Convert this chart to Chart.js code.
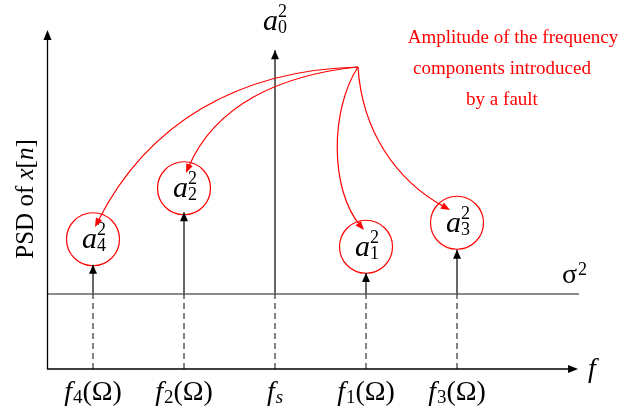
<!DOCTYPE html>
<html>
<head>
<meta charset="utf-8">
<script src="https://cdn.jsdelivr.net/npm/chart.js@4.4.1/dist/chart.umd.min.js"></script>
<style>
  body { margin: 0; background: #fff; }
  canvas { display: block; }
</style>
</head>
<body>
<canvas id="psdChart" width="629" height="408"></canvas>
<script>
// ---------- data ----------
// frequency positions on the f axis (index units)
const freqPos = [1, 2, 3, 4, 5];
const tickSubs = ['4', '2', 's', '1', '3'];
const tickSuffix = ['(Ω)', '(Ω)', '', '(Ω)', '(Ω)'];
const compIndex = ['4', '2', '0', '1', '3'];
// height of each spectral line (tip of arrow), noise floor = 1
const stemTop = [1.39, 2.09, 4.25, 1.28, 1.59];
// level of the circled amplitude labels (fs has no circle)
const circleLevel = [1.73, 2.41, null, 1.63, 1.95];
const noiseLevel = 1;
const axisX = [0.5, 6.33];
const axisY = [0, 4.52];

// red arrows: start point + two control points + end point (data units)
const faultSource = { x: 3.912, y: 4.027 };
const faultCurves = [
    [{ x: 2.615, y: 3.987 }, { x: 1.604, y: 3.293 }, { x: 1.022, y: 1.893 }],
    [{ x: 3.055, y: 3.92 }, { x: 2.341, y: 3.52 }, { x: 2.022, y: 2.613 }],
    [{ x: 3.604, y: 3.453 }, { x: 3.604, y: 2.387 }, { x: 3.978, y: 1.853 }],
    [{ x: 3.956, y: 3.187 }, { x: 4.319, y: 2.52 }, { x: 4.923, y: 2.12 }]
];
const noteLines = ['Amplitude of the frequency', 'components introduced', 'by a fault'];

const RED = '#ff0000';
const SERIF = '"Liberation Serif", "DejaVu Serif", serif';

// ---------- datasets built from arrays ----------
const stemData = [];
const dashData = [];
freqPos.forEach((x, i) => {
    stemData.push({ x: x, y: noiseLevel }, { x: x, y: stemTop[i] }, { x: x, y: null });
    dashData.push({ x: x, y: 0 }, { x: x, y: noiseLevel }, { x: x, y: null });
});
const circleData = [];
freqPos.forEach((x, i) => {
    if (circleLevel[i] !== null) circleData.push({ x: x, y: circleLevel[i] });
});

// ---------- helpers ----------
function arrowHead(ctx, x, y, ang, len, half, color) {
    ctx.save();
    ctx.translate(x, y);
    ctx.rotate(ang);
    ctx.fillStyle = color;
    ctx.beginPath();
    ctx.moveTo(0, 0);
    ctx.lineTo(-len, -half);
    ctx.lineTo(-len, half);
    ctx.closePath();
    ctx.fill();
    ctx.restore();
}

function drawAmp(ctx, left, base, idx) {
    ctx.fillStyle = '#000';
    ctx.textAlign = 'left';
    ctx.textBaseline = 'alphabetic';
    ctx.font = 'italic 30px ' + SERIF;
    ctx.fillText('a', left, base);
    ctx.font = '18px ' + SERIF;
    ctx.fillText('2', left + 15, base - 13);
    ctx.fillText(idx, left + 15, base + 3);
}

// ---------- custom drawing plugin ----------
const schematicPlugin = {
    id: 'schematic',
    afterDatasetsDraw(chart) {
        const ctx = chart.ctx;
        const xs = chart.scales.x;
        const ys = chart.scales.y;
        const px = v => xs.getPixelForValue(v);
        const py = v => ys.getPixelForValue(v);

        ctx.save();
        // axes
        ctx.strokeStyle = '#000';
        ctx.lineWidth = 1.3;
        ctx.beginPath();
        ctx.moveTo(px(axisX[0]), py(axisY[1]) + 8);
        ctx.lineTo(px(axisX[0]), py(axisY[0]));
        ctx.lineTo(px(axisX[1]) - 8, py(axisY[0]));
        ctx.stroke();
        arrowHead(ctx, px(axisX[0]), py(axisY[1]), -Math.PI / 2, 10, 4, '#000');
        arrowHead(ctx, px(axisX[1]), py(axisY[0]), 0, 10, 4, '#000');

        // stem arrowheads
        freqPos.forEach((x, i) => {
            arrowHead(ctx, px(x), py(stemTop[i]), -Math.PI / 2, 9, 4, '#000');
        });

        // circled labels
        freqPos.forEach((x, i) => {
            if (circleLevel[i] === null) return;
            drawAmp(ctx, px(x) - 11, py(circleLevel[i]) + 9, compIndex[i]);
        });
        // a0^2 above fs line
        const iS = compIndex.indexOf('0');
        drawAmp(ctx, px(freqPos[iS]) - 12, py(stemTop[iS]) - 20, '0');

        // red curves
        ctx.strokeStyle = RED;
        ctx.lineWidth = 1.2;
        const sx = px(faultSource.x), sy = py(faultSource.y);
        faultCurves.forEach(c => {
            const p1 = { x: px(c[0].x), y: py(c[0].y) };
            const p2 = { x: px(c[1].x), y: py(c[1].y) };
            const p3 = { x: px(c[2].x), y: py(c[2].y) };
            const ang = Math.atan2(p3.y - p2.y, p3.x - p2.x);
            ctx.beginPath();
            ctx.moveTo(sx, sy);
            ctx.bezierCurveTo(p1.x, p1.y, p2.x, p2.y, p3.x - 6 * Math.cos(ang), p3.y - 6 * Math.sin(ang));
            ctx.stroke();
            arrowHead(ctx, p3.x, p3.y, ang, 9, 3.5, RED);
        });

        // red note
        ctx.fillStyle = RED;
        ctx.font = '19px ' + SERIF;
        ctx.textAlign = 'center';
        ctx.fillText(noteLines[0], 513, 43);
        ctx.fillText(noteLines[1], 502, 74);
        ctx.fillText(noteLines[2], 502, 105);

        // tick labels
        ctx.fillStyle = '#000';
        freqPos.forEach((x, i) => {
            const cx = px(x);
            ctx.font = 'italic 28px ' + SERIF;
            const wf = ctx.measureText('f').width;
            ctx.font = (tickSubs[i] === 's' ? 'italic ' : '') + '19px ' + SERIF;
            const ws = ctx.measureText(tickSubs[i]).width;
            ctx.font = '28px ' + SERIF;
            const wr = ctx.measureText(tickSuffix[i]).width;
            let left = cx - (wf + 1 + ws + wr) / 2;
            ctx.textAlign = 'left';
            ctx.font = 'italic 28px ' + SERIF;
            ctx.fillText('f', left, 400);
            ctx.font = (tickSubs[i] === 's' ? 'italic ' : '') + '19px ' + SERIF;
            ctx.fillText(tickSubs[i], left + wf + 1, 403);
            ctx.font = '28px ' + SERIF;
            ctx.fillText(tickSuffix[i], left + wf + 1 + ws, 400);
        });

        // axis names
        ctx.font = 'italic 28px ' + SERIF;
        ctx.fillText('f', 588, 377);
        ctx.font = '28px ' + SERIF;
        ctx.fillText('σ', 562, 283);
        ctx.font = '18px ' + SERIF;
        ctx.fillText('2', 578, 275);

        // y label
        ctx.translate(33, 199);
        ctx.rotate(-Math.PI / 2);
        const parts = [['PSD of ', ''], ['x', 'italic '], ['[', ''], ['n', 'italic '], [']', '']];
        let total = 0;
        parts.forEach(p => { ctx.font = p[1] + '25px ' + SERIF; total += ctx.measureText(p[0]).width; });
        let pos = -total / 2;
        parts.forEach(p => {
            ctx.font = p[1] + '25px ' + SERIF;
            ctx.fillText(p[0], pos, 0);
            pos += ctx.measureText(p[0]).width;
        });
        ctx.restore();
    }
};

// ---------- chart ----------
new Chart(document.getElementById('psdChart').getContext('2d'), {
    type: 'scatter',
    data: {
        datasets: [
            {
                label: 'dashes',
                data: dashData,
                showLine: true,
                spanGaps: false,
                borderColor: '#333',
                borderWidth: 1.2,
                borderDash: [6, 4],
                pointRadius: 0
            },
            {
                label: 'noise',
                data: [{ x: axisX[0], y: noiseLevel }, { x: axisX[1] + 0.01, y: noiseLevel }],
                showLine: true,
                borderColor: '#666',
                borderWidth: 1.6,
                pointRadius: 0
            },
            {
                label: 'stems',
                data: stemData,
                showLine: true,
                spanGaps: false,
                borderColor: '#000',
                borderWidth: 1.2,
                pointRadius: 0
            },
            {
                label: 'circles',
                data: circleData,
                showLine: false,
                pointRadius: 26.5,
                pointBorderColor: RED,
                pointBackgroundColor: 'rgba(0,0,0,0)',
                pointBorderWidth: 1.2
            }
        ]
    },
    options: {
        responsive: false,
        animation: false,
        devicePixelRatio: 1,
        events: [],
        layout: { padding: 0, autoPadding: false },
        plugins: {
            legend: { display: false },
            tooltip: { enabled: false },
            title: { display: false }
        },
        scales: {
            x: { type: 'linear', min: -0.022, max: 6.89, display: false },
            y: { type: 'linear', min: -0.52, max: 4.92, display: false }
        }
    },
    plugins: [schematicPlugin]
});
</script>
</body>
</html>
